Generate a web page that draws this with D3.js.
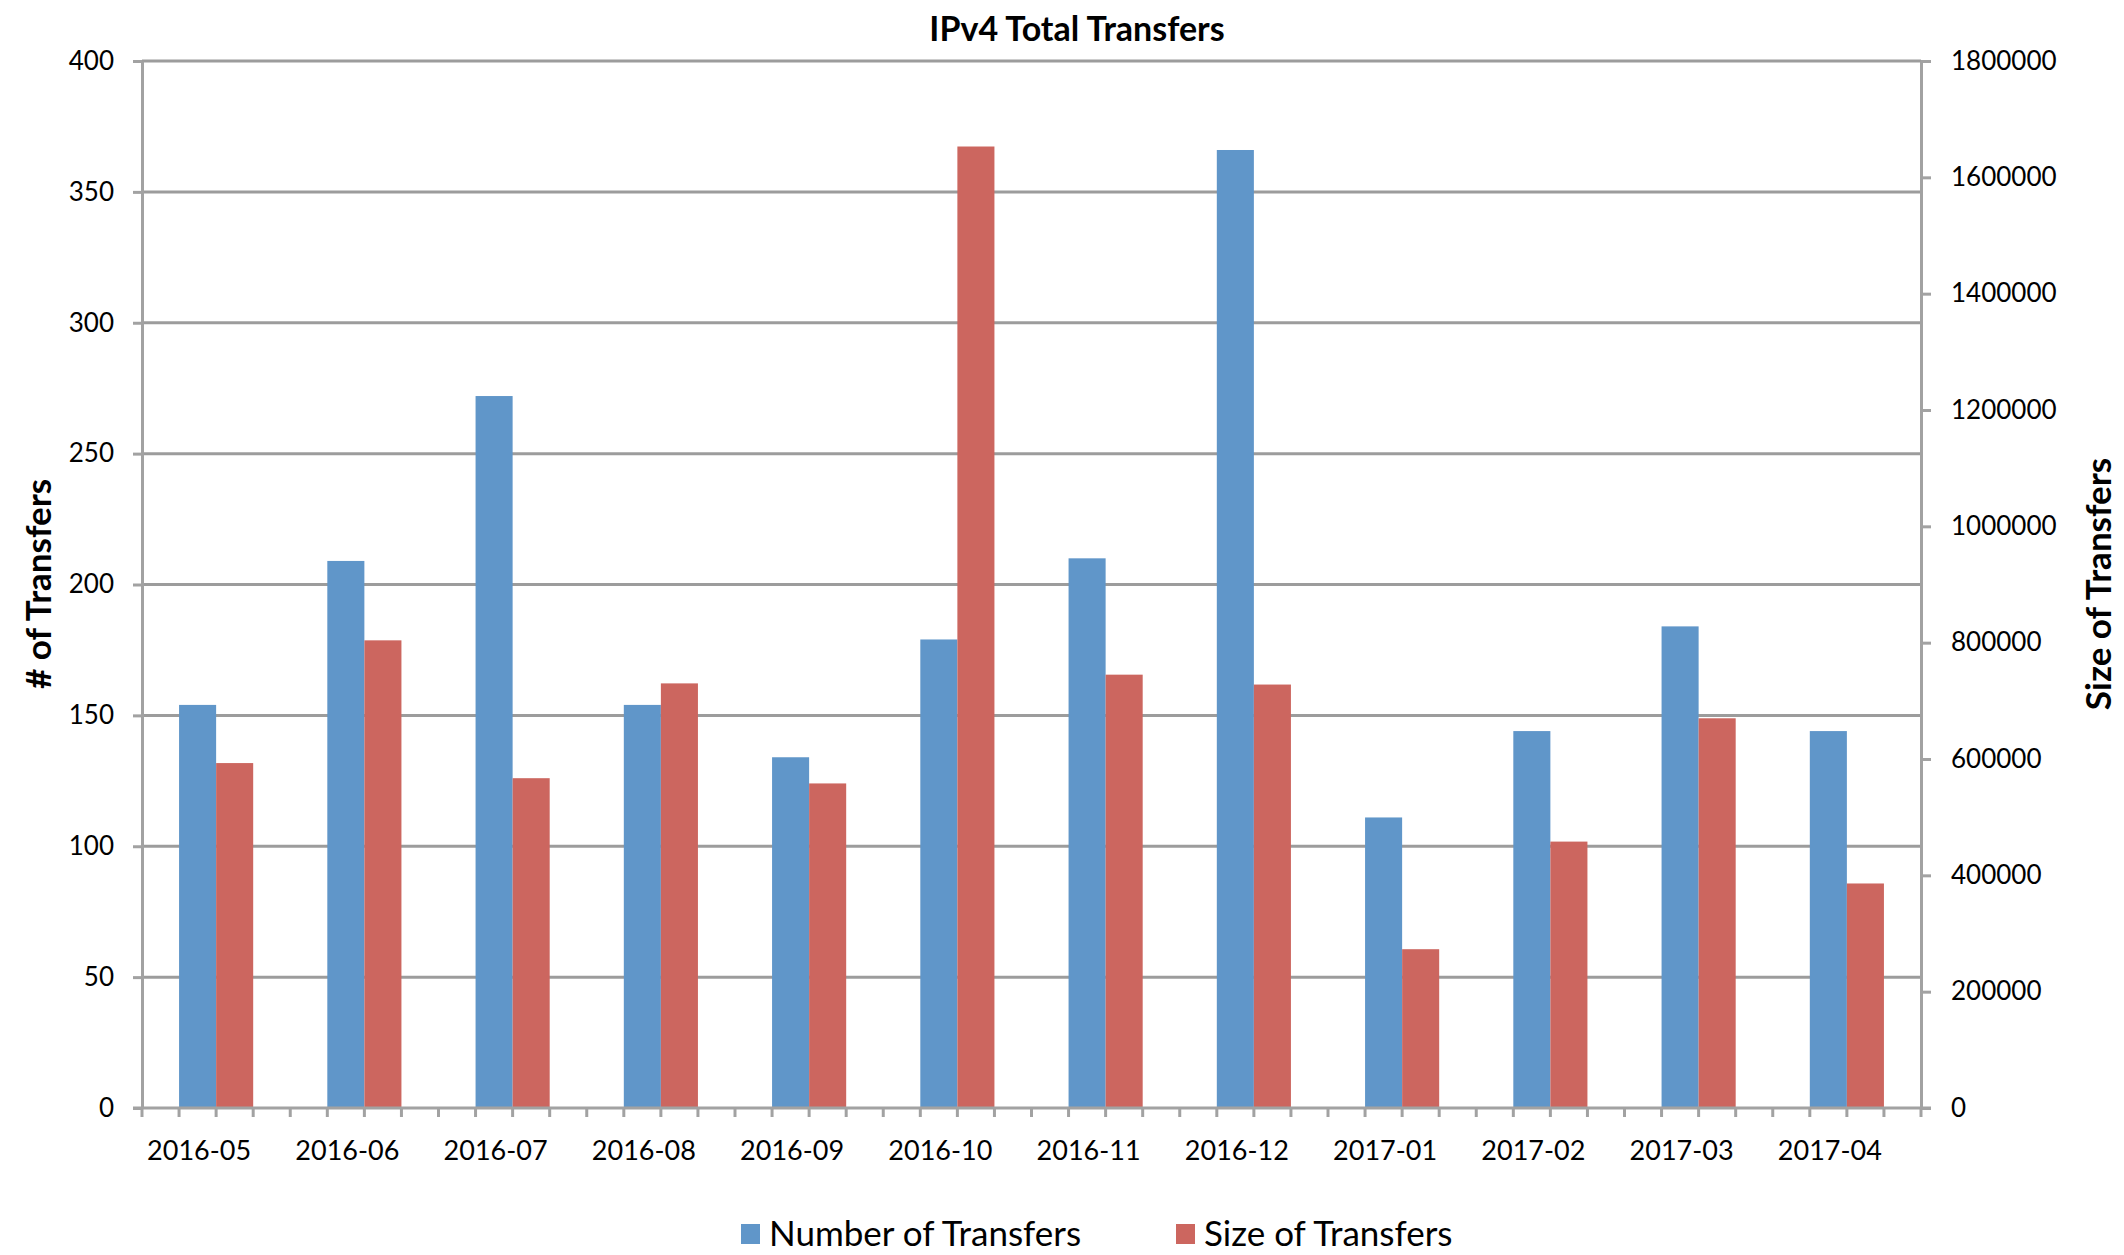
<!DOCTYPE html>
<html>
<head>
<meta charset="utf-8">
<script src="https://cdn.jsdelivr.net/npm/d3@7"></script>
<style>
  html, body { margin: 0; padding: 0; background: #fff; }
  svg text { font-family: Lato, "Liberation Sans", sans-serif; fill: #000; }
</style>
</head>
<body>
<div id="chart"></div>
<script>
// data
const months = ['2016-05', '2016-06', '2016-07', '2016-08', '2016-09', '2016-10',
  '2016-11', '2016-12', '2017-01', '2017-02', '2017-03', '2017-04'];
const numberOfTransfers = [154, 209, 272, 154, 134, 179, 210, 366, 111, 144, 184, 144];
const sizeOfTransfers = [593000, 804000, 567000, 730000, 558000, 1653000,
  745000, 728000, 273000, 458000, 670000, 386000];
const leftTicks = [0, 50, 100, 150, 200, 250, 300, 350, 400];
const rightTicks = [0, 200000, 400000, 600000, 800000, 1000000, 1200000, 1400000, 1600000, 1800000];
const seriesNames = ['Number of Transfers', 'Size of Transfers'];

(function () {
  const W = 2124, H = 1255;
  const margin = { top: 61, right: 203, bottom: 147, left: 142 };
  const w = W - margin.left - margin.right;
  const h = H - margin.top - margin.bottom;
  const blue = '#6096c9';
  const red = '#cc665f';
  const gridColor = '#9c9c9c';
  const axisColor = '#a2a2a2';

  const data = months.map((m, i) => ({ month: m, num: numberOfTransfers[i], size: sizeOfTransfers[i] }));

  const svg = d3.select('#chart').append('svg')
    .attr('width', W)
    .attr('height', H);

  const g = svg.append('g').attr('transform', `translate(${margin.left},${margin.top})`);

  const x = d3.scaleBand().domain(months).range([0, w]).padding(0);
  const yL = d3.scaleLinear().domain([0, 400]).range([h, 0]);
  const yR = d3.scaleLinear().domain([0, 1800000]).range([h, 0]);
  const bw = x.bandwidth();

  // gridlines
  g.selectAll('.grid')
    .data(leftTicks.filter(d => d > 0))
    .join('line')
    .attr('class', 'grid')
    .attr('x1', 0)
    .attr('x2', w)
    .attr('y1', d => yL(d))
    .attr('y2', d => yL(d))
    .attr('stroke', gridColor)
    .attr('stroke-width', 3);

  // bars
  g.selectAll('.bar-num')
    .data(data)
    .join('rect')
    .attr('class', 'bar-num')
    .attr('x', d => x(d.month) + bw / 4)
    .attr('y', d => yL(d.num))
    .attr('width', bw / 4)
    .attr('height', d => h - yL(d.num))
    .attr('fill', blue);

  g.selectAll('.bar-size')
    .data(data)
    .join('rect')
    .attr('class', 'bar-size')
    .attr('x', d => x(d.month) + bw / 2)
    .attr('y', d => yR(d.size))
    .attr('width', bw / 4)
    .attr('height', d => h - yR(d.size))
    .attr('fill', red);

  // left axis
  g.append('g')
    .call(d3.axisLeft(yL).tickValues(leftTicks).tickSize(9).tickSizeOuter(0).tickPadding(19))
    .call(a => a.select('.domain').attr('stroke', axisColor).attr('stroke-width', 3))
    .call(a => a.selectAll('.tick line').attr('stroke', axisColor).attr('stroke-width', 3))
    .selectAll('text')
    .attr('font-size', '26px')
    .style('font-family', 'Lato, sans-serif');

  // right axis
  g.append('g')
    .attr('transform', `translate(${w},0)`)
    .call(d3.axisRight(yR).tickValues(rightTicks).tickSize(10).tickSizeOuter(0).tickPadding(20).tickFormat(d3.format('d')))
    .call(a => a.select('.domain').attr('stroke', axisColor).attr('stroke-width', 3))
    .call(a => a.selectAll('.tick line').attr('stroke', axisColor).attr('stroke-width', 3))
    .selectAll('text')
    .attr('font-size', '26px')
    .style('font-family', 'Lato, sans-serif');

  // bottom axis: line, quarter ticks, labels
  const tickPos = months.flatMap(m => [0, 1, 2, 3].map(k => x(m) + k * bw / 4)).concat([w]);
  const xAxis = g.append('g').attr('transform', `translate(0,${h})`);
  xAxis.append('line')
    .attr('x1', -9).attr('x2', w + 10)
    .attr('stroke', axisColor).attr('stroke-width', 3);
  xAxis.selectAll('.xtick')
    .data(tickPos)
    .join('line')
    .attr('class', 'xtick')
    .attr('x1', d => d).attr('x2', d => d)
    .attr('y1', 0).attr('y2', 9)
    .attr('stroke', axisColor).attr('stroke-width', 3);
  xAxis.selectAll('.xlabel')
    .data(months)
    .join('text')
    .attr('class', 'xlabel')
    .attr('x', d => x(d) + bw * 0.385)
    .attr('y', 41)
    .attr('text-anchor', 'middle')
    .attr('dominant-baseline', 'central')
    .attr('font-size', '27px')
    .text(d => d);

  // titles
  svg.append('text')
    .attr('x', 1077)
    .attr('y', 27)
    .attr('text-anchor', 'middle')
    .attr('dominant-baseline', 'central')
    .attr('font-size', '34px')
    .attr('font-weight', 700)
    .text('IPv4 Total Transfers');

  svg.append('text')
    .attr('transform', 'translate(37,584) rotate(-90)')
    .attr('text-anchor', 'middle')
    .attr('dominant-baseline', 'central')
    .attr('font-size', '35px')
    .attr('font-weight', 700)
    .text('# of Transfers');

  svg.append('text')
    .attr('transform', 'translate(2097,584) rotate(-90)')
    .attr('text-anchor', 'middle')
    .attr('dominant-baseline', 'central')
    .attr('font-size', '35px')
    .attr('font-weight', 700)
    .text('Size of Transfers');

  // legend
  const legendX = [741, 1176];
  const legendColors = [blue, red];
  seriesNames.forEach((name, i) => {
    svg.append('rect')
      .attr('x', legendX[i]).attr('y', 1224)
      .attr('width', 19).attr('height', 20)
      .attr('fill', legendColors[i]);
    svg.append('text')
      .attr('x', legendX[i] + 28)
      .attr('y', 1246)
      .attr('font-size', '35px')
      .text(name);
  });
})();
</script>
</body>
</html>
